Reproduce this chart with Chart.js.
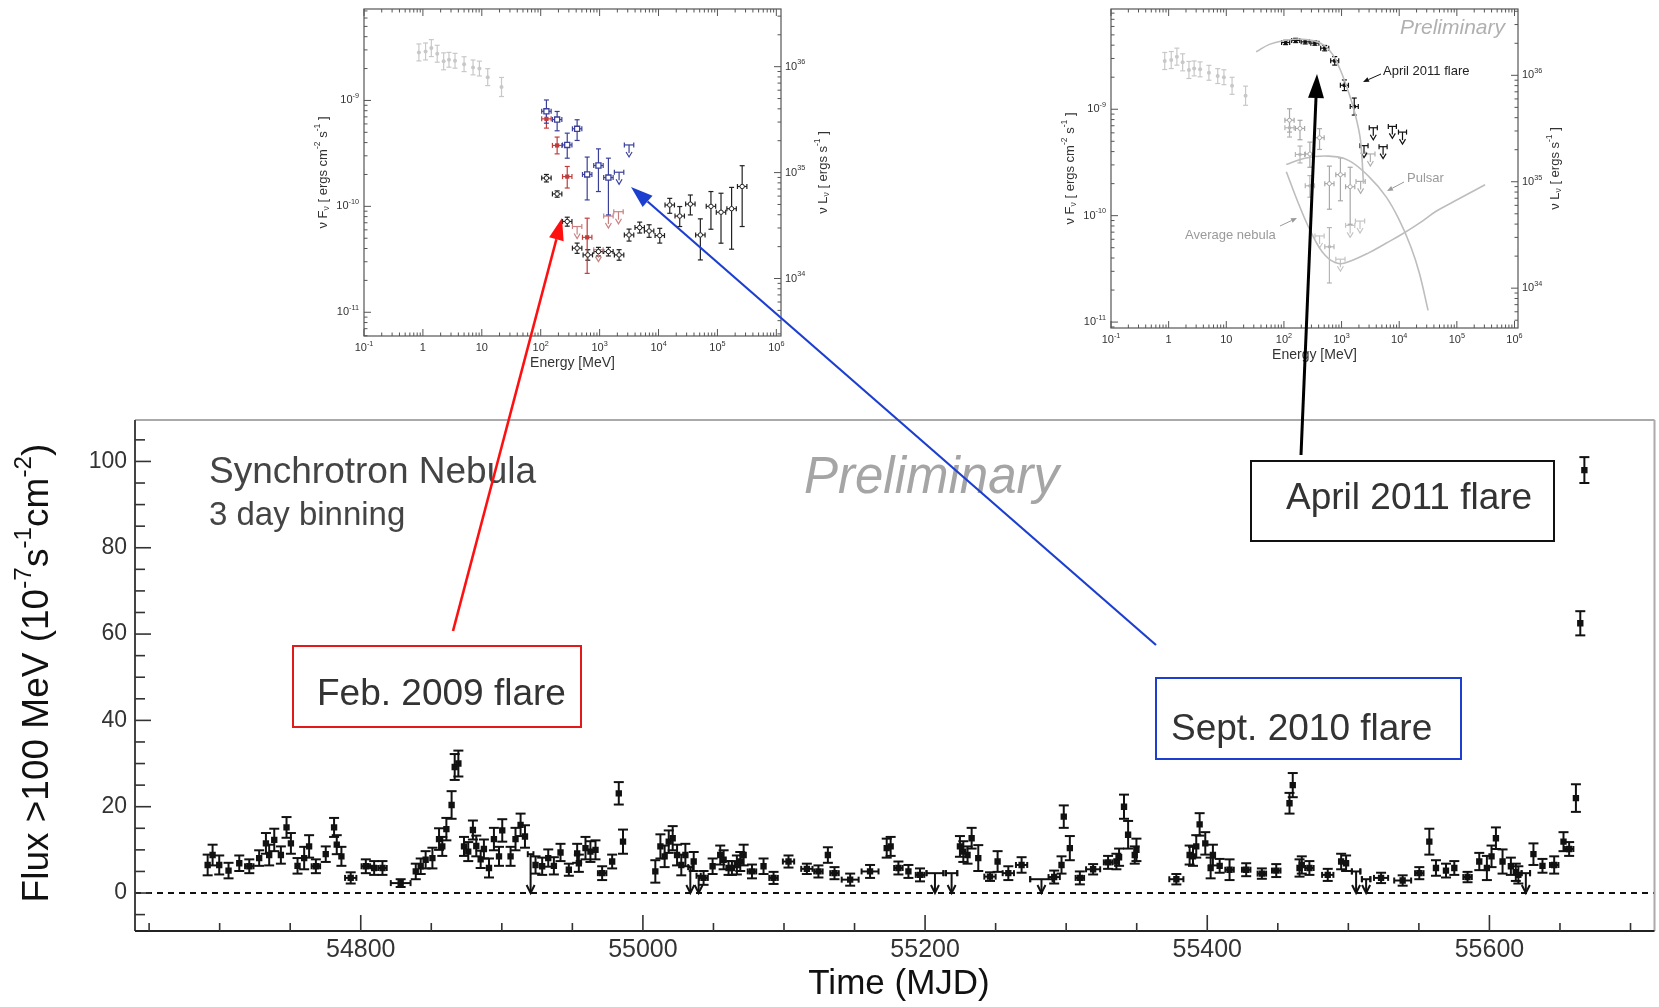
<!DOCTYPE html>
<html lang="en">
<head>
<meta charset="UTF-8" />
<title>Crab nebula flares</title>
<script src="https://cdn.jsdelivr.net/npm/chart.js"></script>
<style>
  html, body { margin: 0; padding: 0; background: #fff; overflow: hidden; }
  canvas { position: absolute; top: 0; }
</style>
</head>
<body>
<canvas id="sedFeb" width="560" height="380" style="left:290px"></canvas>
<canvas id="sedApr" width="600" height="380" style="left:1040px"></canvas>
<canvas id="lc" width="1659" height="1007" style="left:0;z-index:2"></canvas>

<script>
const FONT = '"Liberation Sans", Arial, Helvetica, sans-serif';

// ---- light curve, 3 day bins (MJD, flux 1e-7 ph cm-2 s-1) ----
const lcTime = [
  54691.5,54695,54699.7,54706.3,54713.9,54721,54728,54732.8,54735.1,54738.7,
  54743.4,54747.4,54750.5,54755.2,54759.9,54763.4,54768.2,54775.2,54781.1,54783,
  54786.3,54792.9,54803.6,54809.5,54815.4,54828.3,54839,54842.5,54846,54850.8,
  54855.5,54857.8,54860.7,54864.4,54866.6,54869.2,54873.2,54876.2,54879.5,54881.9,
  54885,54887.3,54890.9,54894.4,54898,54900.3,54906.2,54909.7,54913.3,54916.4,
  54923.9,54928.6,54932.9,54936.9,54941.6,54947.5,54953.4,54954.6,54959.3,54962.8,
  54966.4,54971.1,54978.2,54982.9,54985.9,55008.8,55012.4,55015.4,55018.3,55021.1,
  55024.2,55027.2,55030.1,55036,55043,55049.4,55054.8,55057.2,55060.7,55063.1,
  55066.6,55069,55071.4,55077.3,55085.5,55092.6,55103.2,55116.2,55124.4,55131.1,
  55135.8,55146.9,55161,55172.8,55175.6,55181.1,55188.2,55196.4,55224.7,55227.1,
  55230.1,55233,55237.7,55246,55251.4,55259,55268.4,55291.5,55296.7,55298.3,
  55302.6,55309.7,55319.1,55329.7,55335.6,55337.5,55341,55343.9,55348.6,55349.8,
  55378.1,55387.5,55389.9,55392.2,55394.6,55398.6,55402.4,55404,55408.8,55415.8,
  55427.6,55438.7,55448.9,55458.3,55460.6,55465.4,55467,55472.4,55485.4,55494.9,
  55498.4,55523.2,55538.5,55550.3,55557.4,55562.1,55569.2,55575.1,55584.5,55592.8,
  55598.2,55601.5,55604.6,55609.3,55615.2,55618.7,55620.5,55631.2,55637.6,55645.9,
  55652.5,55656.5,55661.3,55664.4,55667.3
];
const lcFlux = [
  6.5,8.8,6.5,5.2,6.9,6.2,8.1,11.5,8.8,12.3,
  8.8,15.2,11.5,6.3,8.1,10.8,6.2,9.0,15.2,11.2,
  8.5,3.5,6.2,5.8,5.8,2.3,5.0,6.2,7.7,8.1,
  12.5,10.8,14.8,20.4,29.2,30.0,10.8,9.6,14.6,10.9,
  7.8,10.2,5.8,12.5,8.5,14.5,8.5,12.5,15.8,13.1,
  6.5,6.2,8.1,6.3,9.4,5.4,9.2,6.9,10.4,9.6,
  10.0,4.6,7.3,23.1,11.9,5.0,10.8,8.5,11.9,12.7,
  8.8,6.5,8.8,7.3,3.5,6.2,8.8,7.7,5.8,5.8,
  6.5,7.3,8.8,5.0,6.2,3.5,7.3,5.6,5.0,8.8,
  4.6,3.1,5.0,10.4,10.8,5.8,5.0,4.2,10.8,9.6,
  8.8,12.7,8.1,3.8,7.3,4.6,6.5,3.7,6.5,17.7,
  10.4,3.5,5.5,7.1,7.3,8.3,20.0,13.5,8.8,10.0,
  3.2,8.8,8.5,10.8,15.9,11.5,5.8,8.8,6.3,5.4,
  5.4,4.5,5.2,20.8,25.0,5.8,6.5,5.8,4.2,7.3,
  6.9,3.5,2.9,4.6,11.9,5.8,5.2,5.8,3.7,7.3,
  5.8,8.5,12.7,7.3,6.2,4.8,4.2,9.0,6.3,6.5,
  11.9,10.2,22.0,62.5,98.0
];
const lcErr = [
  2.4,2.4,2.2,1.8,1.8,1.6,1.8,2.4,2.4,2.6,
  2.0,2.4,2.4,1.8,2.6,2.6,1.6,1.8,2.2,2.2,
  2.2,1.3,1.6,1.6,1.6,0.9,1.8,1.8,2.0,2.4,
  2.5,2.2,2.6,3.2,3.0,3.0,2.2,2.2,2.2,2.4,
  2.0,2.2,2.2,2.6,2.2,2.6,2.2,2.6,2.6,2.6,
  2.0,2.0,2.0,2.0,2.0,1.4,2.2,2.0,2.6,2.4,
  2.2,1.6,1.6,2.6,2.8,2.6,2.8,2.5,2.6,2.8,
  2.4,2.4,2.6,2.2,1.6,1.8,2.2,2.2,1.6,1.6,
  2.2,2.2,2.4,1.6,1.8,1.4,1.4,1.2,1.4,1.8,
  1.4,1.4,1.5,2.2,2.2,1.5,1.5,1.5,2.4,2.4,
  2.0,2.4,3.0,1.0,2.4,1.6,1.8,1.5,2.0,2.6,
  2.8,1.5,1.2,1.5,1.8,2.0,2.8,3.2,2.0,2.6,
  1.2,2.2,2.2,2.6,2.6,2.6,2.4,2.4,1.6,2.4,
  1.5,1.2,1.5,2.4,2.8,2.0,2.0,1.6,1.4,1.8,
  1.8,1.2,1.2,1.4,3.0,1.8,1.6,1.6,1.2,2.0,
  2.8,2.5,2.5,2.8,2.0,2.0,2.0,2.5,1.6,2.0,
  2.2,1.6,3.2,2.8,3.0
];
const lcHalf = [
  1.5,1.5,1.5,1.5,1.5,3,1.5,1.5,1.5,1.5,
  1.5,1.5,1.5,1.5,1.5,1.5,3,1.5,1.5,1.5,
  1.5,4,3,1.5,3,7,1.5,1.5,1.5,1.5,
  1.5,1.5,1.5,1.5,1.5,1.5,1.5,1.5,1.5,1.5,
  1.5,1.5,1.5,1.5,1.5,1.5,1.5,1.5,1.5,1.5,
  1.5,1.5,1.5,1.5,1.5,1.5,1.5,1.5,1.5,1.5,
  1.5,3,1.5,1.5,1.5,1.5,1.5,1.5,1.5,1.5,
  1.5,1.5,1.5,1.5,3,1.5,1.5,1.5,1.5,1.5,
  1.5,1.5,1.5,3,1.5,3,4,4,3,1.5,
  3,6,6,1.5,1.5,3,1.5,3,1.5,1.5,
  1.5,1.5,1.5,4,1.5,4,4,4,1.5,1.5,
  1.5,3,5,3,1.5,1.5,1.5,1.5,1.5,1.5,
  5,1.5,1.5,1.5,1.5,1.5,1.5,1.5,1.5,3,
  3,3,3,1.5,1.5,1.5,1.5,3,4,1.5,
  1.5,5,6,3,1.5,1.5,1.5,1.5,3,1.5,
  1.5,1.5,1.5,1.5,1.5,1.5,1.5,1.5,1.5,3,
  1.5,3,1.5,1.5,1.5
];
// upper limits
const ulTime = [54920.4, 55033.6, 55039.5, 55207, 55218.8, 55282.5, 55505.5, 55512.6, 55625.8];
const ulFlux = [9.0, 6.0, 4.0, 4.6, 4.6, 3.2, 5.0, 3.2, 4.6];
const ulHalf = [2, 1.5, 1.5, 6, 4, 8, 3, 3, 3];

// ---- SEDs: energy (MeV), nuFnu (erg cm-2 s-1) ----
const synE = [0.855,1.11,1.39,1.75,2.25,2.77,3.51,5.0,7.1,9.1,12.6,21.6];
const synF = [2.84e-9,2.90e-9,3.12e-9,2.76e-9,2.34e-9,2.42e-9,2.37e-9,2.20e-9,2.05e-9,2.0e-9,1.66e-9,1.34e-9];
const synErrDex = [0.08,0.08,0.08,0.08,0.08,0.07,0.07,0.07,0.07,0.07,0.08,0.09];

const nebE = [125,190,282,415,630,955,1410,2140,3160,4790,6920,10500,15500,22900,34700,51300,77600,115000,174000,263000];
const nebF = [1.85e-10,1.31e-10,7.2e-11,4.03e-11,3.48e-11,3.74e-11,3.74e-11,3.48e-11,5.37e-11,6.3e-11,5.85e-11,5.3e-11,1.03e-10,8.1e-11,1.05e-10,5.37e-11,1.0e-10,8.8e-11,9.5e-11,1.54e-10];
const nebLo = [1.70e-10,1.22e-10,6.5e-11,3.6e-11,3.1e-11,3.4e-11,3.4e-11,3.1e-11,4.7e-11,5.6e-11,5.1e-11,4.5e-11,8.6e-11,6.45e-11,8.3e-11,3.12e-11,6.08e-11,4.49e-11,3.94e-11,6.45e-11];
const nebHi = [2.0e-10,1.40e-10,7.9e-11,4.5e-11,3.9e-11,4.1e-11,4.1e-11,3.9e-11,6.1e-11,7.1e-11,6.7e-11,6.2e-11,1.19e-10,9.96e-11,1.28e-10,7.62e-11,1.38e-10,1.33e-10,1.51e-10,2.42e-10];

const febE = [125,190,282,615];
const febF = [6.7e-10,3.76e-10,1.91e-10,5.1e-11];
const febLo = [5.48e-10,3.13e-10,1.49e-10,2.33e-11];
const febHi = [7.87e-10,4.51e-10,2.38e-10,7.73e-11];
const febUlE = [415,955,1410,2090];
const febUlF = [6.45e-11,3.9e-11,8.1e-11,8.9e-11];

const sepE = [125,190,282,415,615,955,1410];
const sepF = [7.9e-10,6.6e-10,3.8e-10,5.4e-10,2.0e-10,2.43e-10,1.87e-10];
const sepLo = [6.1e-10,5.17e-10,2.85e-10,4.19e-10,1.15e-10,1.38e-10,8.3e-11];
const sepHi = [1.01e-9,7.87e-10,4.91e-10,6.57e-10,2.92e-10,3.49e-10,2.85e-10];
const sepUlE = [2140,3160];
const sepUlF = [2.1e-10,3.8e-10];

const aprE = [107,160,234,344,510,760,1120,1660];
const aprF = [4.24e-9,4.43e-9,4.3e-9,4.18e-9,3.75e-9,2.85e-9,1.68e-9,1.06e-9];
const aprErrDex = [0.02,0.02,0.02,0.02,0.025,0.04,0.05,0.08];
const aprUlE = [2450,3550,5250,7600,11400];
const aprUlF = [4.55e-10,6.7e-10,4.45e-10,6.9e-10,6.1e-10];

// model curves
const flareCurveE = [33,56,100,178,316,501,708,933,1175,1479,1820,2138,2400];
const flareCurveF = [3.47e-9,4.07e-9,4.42e-9,4.57e-9,4.42e-9,3.98e-9,3.24e-9,2.40e-9,1.74e-9,1.20e-9,7.94e-10,5.01e-10,2.0e-10];
const pulsarE = [110,229,589,1318,2951,5888,10000,15849,22387,31623];
const pulsarF = [3.02e-10,3.47e-10,3.63e-10,3.31e-10,2.34e-10,1.51e-10,9.12e-11,5.13e-11,2.88e-11,1.29e-11];
const avgNebE = [110,178,302,513,891,1514,2951,5888,11482,22387,43652,87096,309030];
const avgNebF = [2.59e-10,1.31e-10,6.82e-11,4.27e-11,3.55e-11,3.80e-11,4.47e-11,5.50e-11,6.76e-11,8.51e-11,1.10e-10,1.35e-10,1.95e-10];

const LF = 4.8e44; // nuFnu -> nuLnu (4 pi d^2, d ~ 2 kpc)

// ---------- helpers ----------
function pts(xs, ys) { return xs.map((x, i) => ({ x: x, y: ys[i] })); }
function dexLo(f, d) { return f.map((v, i) => v / Math.pow(10, d[i])); }
function dexHi(f, d) { return f.map((v, i) => v * Math.pow(10, d[i])); }

function seg(ctx, x1, y1, x2, y2) {
  ctx.beginPath(); ctx.moveTo(x1, y1); ctx.lineTo(x2, y2); ctx.stroke();
}

function arrow(ctx, x1, y1, x2, y2, color, lw, hl, hw) {
  const a = Math.atan2(y2 - y1, x2 - x1);
  const bx = x2 - hl * Math.cos(a), by = y2 - hl * Math.sin(a);
  ctx.save();
  ctx.strokeStyle = color; ctx.fillStyle = color; ctx.lineWidth = lw;
  seg(ctx, x1, y1, bx, by);
  ctx.beginPath();
  ctx.moveTo(x2, y2);
  ctx.lineTo(bx + hw / 2 * Math.sin(a), by - hw / 2 * Math.cos(a));
  ctx.lineTo(bx - hw / 2 * Math.sin(a), by + hw / 2 * Math.cos(a));
  ctx.closePath(); ctx.fill();
  ctx.restore();
}

// text with super/subscripts: parts = [[text], [text,'sup'], [text,'sub']]
function rich(ctx, x, y, parts, size, o) {
  o = o || {};
  const it = o.italic ? 'italic ' : '';
  const fs = p => p[1] ? size * 0.66 : size;
  let w = 0;
  parts.forEach(p => { ctx.font = it + fs(p) + 'px ' + FONT; w += ctx.measureText(p[0]).width; });
  ctx.save();
  ctx.translate(x, y);
  if (o.rot) ctx.rotate(o.rot);
  ctx.fillStyle = o.color || '#000';
  ctx.textBaseline = 'middle';
  ctx.textAlign = 'left';
  let cx = o.align === 'center' ? -w / 2 : o.align === 'right' ? -w : 0;
  parts.forEach(p => {
    ctx.font = it + fs(p) + 'px ' + FONT;
    const dy = p[1] === 'sup' ? -size * 0.38 : p[1] === 'sub' ? size * 0.25 : 0;
    ctx.fillText(p[0], cx, dy);
    cx += ctx.measureText(p[0]).width;
  });
  ctx.restore();
}

function logTicks(min, max) {
  const out = [];
  for (let d = Math.floor(Math.log10(min)); d <= Math.ceil(Math.log10(max)); d++) {
    for (let m = 1; m <= 9; m++) {
      const v = m * Math.pow(10, d);
      if (v >= min * 0.999 && v <= max * 1.001) out.push({ v: v, major: m === 1, d: d });
    }
  }
  return out;
}

function powLabel(d) {
  if (d === 0) return [['1']];
  if (d === 1) return [['10']];
  return [['10'], [String(d), 'sup']];
}

// ---------- inset plugins ----------
const insetBars = {
  id: 'insetBars',
  beforeDatasetsDraw(chart) {
    const { ctx, scales: { x, y } } = chart;
    chart.data.datasets.forEach(ds => {
      const b = ds.bars;
      if (!b) return;
      ctx.save();
      ctx.strokeStyle = b.color; ctx.fillStyle = b.color; ctx.lineWidth = 1.2;
      ds.data.forEach((p, i) => {
        const px = x.getPixelForValue(p.x), py = y.getPixelForValue(p.y);
        if (b.dex) {
          const xl = x.getPixelForValue(p.x / Math.pow(10, b.dex));
          const xr = x.getPixelForValue(p.x * Math.pow(10, b.dex));
          seg(ctx, xl, py, xr, py);
          seg(ctx, xl, py - 2.5, xl, py + 2.5);
          seg(ctx, xr, py - 2.5, xr, py + 2.5);
        }
        if (b.ul) {
          seg(ctx, px, py, px, py + 8);
          ctx.beginPath(); ctx.moveTo(px - 3, py + 7); ctx.lineTo(px, py + 12); ctx.lineTo(px + 3, py + 7); ctx.stroke();
        } else {
          const yt = y.getPixelForValue(b.hi[i]), yb = y.getPixelForValue(b.lo[i]);
          seg(ctx, px, yt, px, yb);
          seg(ctx, px - 2.5, yt, px + 2.5, yt);
          seg(ctx, px - 2.5, yb, px + 2.5, yb);
        }
      });
      ctx.restore();
    });
  }
};

function insetDecor(o) {
  return {
    id: 'insetDecor',
    afterDraw(chart) {
      const { ctx, chartArea: a, scales } = chart;
      const sx = scales.x, sy = scales.y, sy2 = scales.y2;
      ctx.save();
      ctx.strokeStyle = '#555'; ctx.lineWidth = 1.2;
      ctx.strokeRect(a.left, a.top, a.right - a.left, a.bottom - a.top);
      ctx.lineWidth = 1;
      logTicks(sx.min, sx.max).forEach(t => {
        const p = sx.getPixelForValue(t.v), L = t.major ? 7 : 3.5;
        seg(ctx, p, a.bottom, p, a.bottom - L);
        seg(ctx, p, a.top, p, a.top + L);
        if (t.major) rich(ctx, p, a.bottom + 12, powLabel(t.d), 11, { align: 'center', color: '#333' });
      });
      logTicks(sy.min, sy.max).forEach(t => {
        const p = sy.getPixelForValue(t.v), L = t.major ? 7 : 3.5;
        seg(ctx, a.left, p, a.left + L, p);
        if (t.major) rich(ctx, a.left - 5, p, powLabel(t.d), 11, { align: 'right', color: '#333' });
      });
      logTicks(sy2.min, sy2.max).forEach(t => {
        const p = sy2.getPixelForValue(t.v), L = t.major ? 7 : 3.5;
        seg(ctx, a.right, p, a.right - L, p);
        if (t.major) rich(ctx, a.right + 4, p, powLabel(t.d), 11, { align: 'left', color: '#333' });
      });
      const midY = (a.top + a.bottom) / 2;
      rich(ctx, (a.left + a.right) / 2, a.bottom + 27, [['Energy [MeV]']], 14, { align: 'center', color: '#333' });
      rich(ctx, o.yTitleX, midY,
        [['ν F'], ['ν', 'sub'], [' [ ergs cm'], ['-2', 'sup'], [' s'], ['-1', 'sup'], [' ]']],
        13, { align: 'center', rot: -Math.PI / 2, color: '#333' });
      rich(ctx, o.y2TitleX, midY,
        [['ν L'], ['ν', 'sub'], [' [ ergs s'], ['-1', 'sup'], [' ]']],
        13, { align: 'center', rot: -Math.PI / 2, color: '#333' });
      (o.texts || []).forEach(t => rich(ctx, t.x, t.y, t.parts, t.size, t));
      (o.arrows || []).forEach(r => arrow(ctx, r[0], r[1], r[2], r[3], r[4], 1, 6, 5));
      ctx.restore();
    }
  };
}

function insetChart(id, datasets, lay, yMin, yMax, decor) {
  return new Chart(document.getElementById(id), {
    type: 'scatter',
    data: { datasets: datasets },
    options: {
      responsive: false, animation: false, devicePixelRatio: 1,
      layout: { padding: { top: lay.top, left: 0, right: 0, bottom: 0 } },
      plugins: { legend: { display: false }, tooltip: { enabled: false } },
      scales: {
        x: { type: 'logarithmic', min: 0.1, max: lay.xMax,
             grid: { display: false, drawTicks: false }, border: { display: false },
             ticks: { display: false }, afterFit: s => { s.height = lay.bottom; } },
        y: { type: 'logarithmic', position: 'left', min: yMin, max: yMax,
             grid: { display: false, drawTicks: false }, border: { display: false },
             ticks: { display: false }, afterFit: s => { s.width = lay.left; } },
        y2: { type: 'logarithmic', position: 'right', min: yMin * LF, max: yMax * LF,
              grid: { display: false, drawTicks: false }, border: { display: false },
              ticks: { display: false }, afterFit: s => { s.width = lay.right; } }
      }
    },
    plugins: [insetBars, insetDecor(decor)]
  });
}

const GRAY = '#c8c8c8';
const synDs = color => ({
  data: pts(synE, synF), pointStyle: 'circle', pointRadius: 2,
  backgroundColor: color, borderColor: color, borderWidth: 0,
  bars: { color: color, lo: dexLo(synF, synErrDex), hi: dexHi(synF, synErrDex), dex: 0 }
});

// ---------- Feb 2009 / Sept 2010 SED ----------
insetChart('sedFeb', [
  synDs(GRAY),
  { data: pts(nebE, nebF), pointStyle: 'circle', pointRadius: 2.2, backgroundColor: '#fff', borderColor: '#222', borderWidth: 1,
    bars: { color: '#222', lo: nebLo, hi: nebHi, dex: 0.08 } },
  { data: pts(febUlE, febUlF), pointRadius: 0, bars: { color: '#c98080', ul: true, dex: 0.08 } },
  { data: pts(febE, febF), pointStyle: 'rect', pointRadius: 3, backgroundColor: '#c23b3b', borderColor: '#c23b3b', borderWidth: 0,
    bars: { color: '#c23b3b', lo: febLo, hi: febHi, dex: 0.08 } },
  { data: pts(sepUlE, sepUlF), pointRadius: 0, bars: { color: '#3a3f9a', ul: true, dex: 0.08 } },
  { data: pts(sepE, sepF), pointStyle: 'rect', pointRadius: 3.6, backgroundColor: '#fff', borderColor: '#3a3f9a', borderWidth: 1.3,
    bars: { color: '#3a3f9a', lo: sepLo, hi: sepHi, dex: 0.08 } }
], { top: 9, left: 74, right: 69, bottom: 44, xMax: 1.2e6 }, 5.97e-12, 7.3e-9,
   { yTitleX: 33, y2TitleX: 533 });

// ---------- April 2011 SED ----------
const CURVE = '#bdbdbd';
insetChart('sedApr', [
  { data: pts(flareCurveE, flareCurveF), showLine: true, pointRadius: 0, borderColor: CURVE, borderWidth: 1.6, tension: 0.4 },
  { data: pts(pulsarE, pulsarF), showLine: true, pointRadius: 0, borderColor: CURVE, borderWidth: 1.6, tension: 0.4 },
  { data: pts(avgNebE, avgNebF), showLine: true, pointRadius: 0, borderColor: CURVE, borderWidth: 1.6, tension: 0.4 },
  synDs(GRAY),
  { data: pts(febUlE, febUlF), pointRadius: 0, bars: { color: '#c4c4c4', ul: true, dex: 0.08 } },
  { data: pts(febE, febF), pointStyle: 'circle', pointRadius: 1.8, backgroundColor: '#b5b5b5', borderColor: '#b5b5b5', borderWidth: 0,
    bars: { color: '#b5b5b5', lo: febLo, hi: febHi, dex: 0.08 } },
  { data: pts(sepUlE, sepUlF), pointRadius: 0, bars: { color: '#b0b0b0', ul: true, dex: 0.08 } },
  { data: pts(sepE, sepF), pointStyle: 'circle', pointRadius: 2, backgroundColor: '#fff', borderColor: '#a8a8a8', borderWidth: 1,
    bars: { color: '#a8a8a8', lo: sepLo, hi: sepHi, dex: 0.08 } },
  { data: pts(aprUlE, aprUlF), pointRadius: 0, bars: { color: '#111', ul: true, dex: 0.07 } },
  { data: pts(aprE, aprF), pointStyle: 'rect', pointRadius: 2.4, backgroundColor: '#111', borderColor: '#111', borderWidth: 0,
    bars: { color: '#111', lo: dexLo(aprF, aprErrDex), hi: dexHi(aprF, aprErrDex), dex: 0.07 } }
], { top: 9, left: 71, right: 122, bottom: 52, xMax: 1.15e6 }, 8.8e-12, 8.75e-9,
   { yTitleX: 30, y2TitleX: 515,
     texts: [
       { x: 360, y: 28, parts: [['Preliminary']], size: 21, italic: true, color: '#b0b0b0' },
       { x: 343, y: 71, parts: [['April 2011 flare']], size: 13, color: '#222' },
       { x: 367, y: 178, parts: [['Pulsar']], size: 13, color: '#9a9a9a' },
       { x: 145, y: 235, parts: [['Average nebula']], size: 13, color: '#9a9a9a' }
     ],
     arrows: [
       [341, 74, 323, 82, '#111'],
       [364, 182, 347, 191, '#9a9a9a'],
       [240, 226, 257, 218, '#9a9a9a']
     ] });

// ---------- light curve ----------
const lcBars = {
  id: 'lcBars',
  beforeDatasetsDraw(chart) {
    const { ctx, scales: { x, y } } = chart;
    ctx.save();
    ctx.strokeStyle = '#111'; ctx.lineWidth = 2;
    chart.data.datasets.forEach(ds => {
      ds.data.forEach((p, i) => {
        const px = x.getPixelForValue(p.x), py = y.getPixelForValue(p.y);
        const xl = x.getPixelForValue(p.x - ds.xHalf[i]), xr = x.getPixelForValue(p.x + ds.xHalf[i]);
        seg(ctx, xl, py, xr, py);
        if (ds.xHalf[i] > 2) { seg(ctx, xl, py - 3, xl, py + 3); seg(ctx, xr, py - 3, xr, py + 3); }
        if (ds.ul) {
          const y0 = y.getPixelForValue(0);
          seg(ctx, xl, py - 3, xl, py + 3); seg(ctx, xr, py - 3, xr, py + 3);
          seg(ctx, px, py, px, y0);
          ctx.beginPath(); ctx.moveTo(px - 4, y0 - 8); ctx.lineTo(px, y0); ctx.lineTo(px + 4, y0 - 8); ctx.stroke();
        } else {
          const yt = y.getPixelForValue(p.y + ds.yErr[i]), yb = y.getPixelForValue(p.y - ds.yErr[i]);
          seg(ctx, px, yt, px, yb);
          seg(ctx, px - 5, yt, px + 5, yt);
          seg(ctx, px - 5, yb, px + 5, yb);
        }
      });
    });
    ctx.restore();
  }
};

const lcDecor = {
  id: 'lcDecor',
  beforeDatasetsDraw(chart) {
    const { ctx, chartArea: a, scales: { y } } = chart;
    ctx.save();
    // zero line
    const y0 = y.getPixelForValue(0);
    ctx.strokeStyle = '#111'; ctx.lineWidth = 2; ctx.setLineDash([6, 5]);
    seg(ctx, a.left, y0, a.right, y0);
    ctx.restore();
  },
  afterDraw(chart) {
    const { ctx, chartArea: a, scales: { x, y } } = chart;
    ctx.save();
    // frame
    ctx.lineWidth = 2;
    ctx.strokeStyle = '#aaa';
    seg(ctx, a.left, a.top, a.right, a.top);
    seg(ctx, a.right, a.top, a.right, a.bottom);
    ctx.strokeStyle = '#444';
    seg(ctx, a.left, a.top, a.left, a.bottom);
    ctx.strokeStyle = '#222';
    seg(ctx, a.left, a.bottom, a.right, a.bottom);
    // inward ticks
    ctx.lineWidth = 1.6; ctx.strokeStyle = '#333';
    for (let v = Math.ceil(x.min / 50) * 50; v <= x.max; v += 50) {
      const p = x.getPixelForValue(v);
      seg(ctx, p, a.bottom, p, a.bottom - (v % 200 === 0 ? 16 : 8));
    }
    for (let v = Math.ceil(y.min / 5) * 5; v <= y.max; v += 5) {
      const p = y.getPixelForValue(v);
      seg(ctx, a.left, p, a.left + (v % 20 === 0 ? 16 : 10), p);
    }
    // axis titles
    rich(ctx, 899, 984, [['Time (MJD)']], 35, { align: 'center', color: '#111' });
    rich(ctx, 38, 673,
      [['Flux >100 MeV (10'], ['-7', 'sup'], ['s'], ['-1', 'sup'], ['cm'], ['-2', 'sup'], [')']],
      37, { align: 'center', rot: -Math.PI / 2, color: '#111' });
    // labels
    rich(ctx, 209, 473, [['Synchrotron Nebula']], 37, { color: '#444' });
    rich(ctx, 209, 516, [['3 day binning']], 33, { color: '#444' });
    rich(ctx, 804, 479, [['Preliminary']], 51, { italic: true, color: '#a5a5a5' });
    // flare boxes
    ctx.lineWidth = 2;
    ctx.strokeStyle = '#e31a1a'; ctx.strokeRect(293, 646, 288, 81);
    ctx.strokeStyle = '#1c3fcf'; ctx.strokeRect(1156, 678, 305, 81);
    ctx.strokeStyle = '#111'; ctx.strokeRect(1251, 461, 303, 80);
    rich(ctx, 317, 695, [['Feb. 2009 flare']], 37, { color: '#333' });
    rich(ctx, 1171, 730, [['Sept. 2010 flare']], 37, { color: '#333' });
    rich(ctx, 1286, 499, [['April 2011 flare']], 37, { color: '#333' });
    // arrows to the SED panels
    arrow(ctx, 453, 631, 562, 218, '#ff1010', 2.6, 22, 15);
    arrow(ctx, 1156, 645, 631, 187, '#1c3fd0', 2.2, 22, 15);
    arrow(ctx, 1301, 455, 1317, 74, '#000', 3, 24, 16);
    ctx.restore();
  }
};

new Chart(document.getElementById('lc'), {
  type: 'scatter',
  data: {
    datasets: [
      { data: pts(lcTime, lcFlux), pointStyle: 'rect', pointRadius: 4.5,
        backgroundColor: '#111', borderColor: '#111', borderWidth: 0, yErr: lcErr, xHalf: lcHalf },
      { data: pts(ulTime, ulFlux), pointRadius: 0, ul: true, xHalf: ulHalf }
    ]
  },
  options: {
    responsive: false, animation: false, devicePixelRatio: 1,
    layout: { padding: { top: 420, right: 2, left: 0, bottom: 0 } },
    plugins: { legend: { display: false }, tooltip: { enabled: false } },
    scales: {
      x: { type: 'linear', min: 54640, max: 55717,
           grid: { display: false, drawTicks: false }, border: { display: false },
           ticks: { stepSize: 200, autoSkip: false, maxRotation: 0, padding: 4, color: '#333',
                    font: { family: FONT, size: 25 },
                    callback: v => (v % 200 === 0 ? String(v) : '') },
           afterFit: s => { s.height = 76; } },
      y: { type: 'linear', min: -8.8, max: 109.6,
           grid: { display: false, drawTicks: false }, border: { display: false },
           ticks: { stepSize: 20, autoSkip: false, padding: 8, color: '#333',
                    font: { family: FONT, size: 23 },
                    callback: v => (v % 20 === 0 ? String(v) : '') },
           afterFit: s => { s.width = 135; } }
    }
  },
  plugins: [lcDecor, lcBars]
});
</script>
</body>
</html>
